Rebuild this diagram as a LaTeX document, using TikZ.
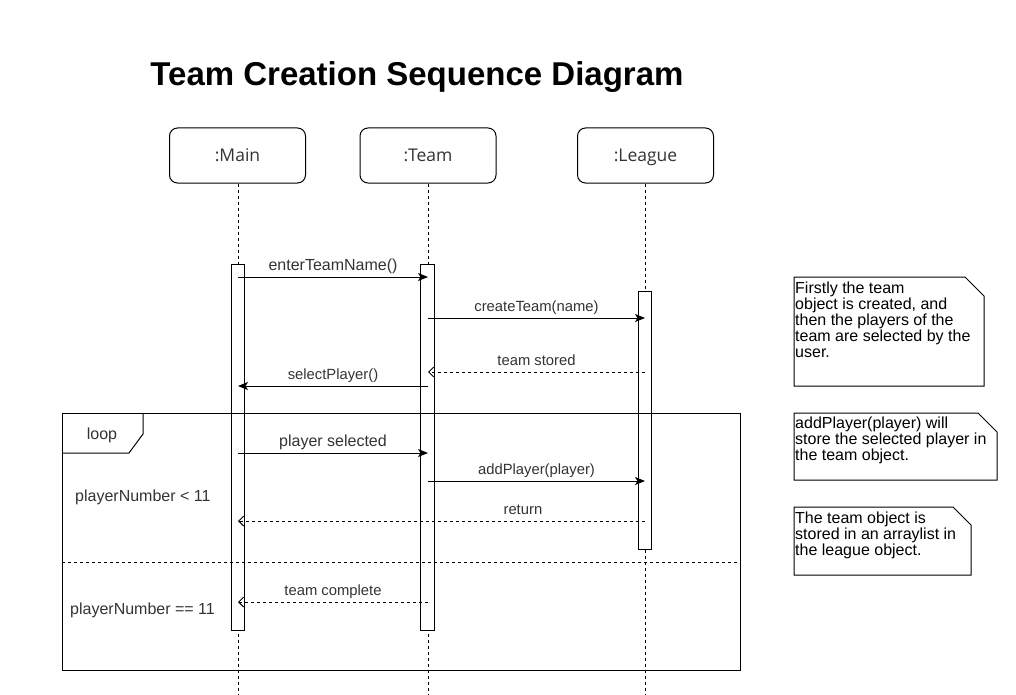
\documentclass[tikz,border=0pt]{standalone}
\usepackage{fontspec}
\setmainfont{Liberation Sans}
\newfontfamily\headfont{Open Sans}
\usetikzlibrary{arrows.meta}
\definecolor{txt}{HTML}{333333}
\begin{document}
\begin{tikzpicture}[x=1pt,y=-1pt,
  head/.style={draw=black, line width=1pt, rounded corners=8pt, minimum width=136pt, minimum height=55pt, inner sep=0pt, text height=13pt, text depth=0pt, font=\headfont\fontsize{17.5}{20}\selectfont, text=txt},
  lifeline/.style={draw=black, line width=1pt, dash pattern=on 3pt off 3pt},
  bar/.style={draw=black, fill=white, line width=1pt, minimum width=13.5pt, inner sep=0pt},
  msg/.style={draw=black, line width=1pt, -{Stealth[length=10pt,width=8pt,inset=2.5pt]}},
  ret/.style={draw=black, line width=1pt, dash pattern=on 3pt off 3pt, -{Straight Barb[length=5pt,width=10pt]}},
  lblA/.style={font=\fontsize{16}{18}\selectfont, text=txt, anchor=base, inner sep=0pt, yshift=7pt},
  lblB/.style={font=\fontsize{14.8}{17}\selectfont, text=txt, anchor=base, inner sep=0pt, yshift=7pt},
  cond/.style={font=\fontsize{16}{18}\selectfont, text=txt, anchor=base west, inner sep=0pt},
  notebox/.style={draw=black, line width=1pt, fill=white},
  notetxt/.style={font=\fontsize{16}{16}\selectfont, text=black, anchor=base west, inner sep=0pt},
  framebox/.style={draw=black, line width=1pt, inner sep=0pt}
]
\useasboundingbox (0,0) rectangle (1016,695);

% title
\node[font=\bfseries\fontsize{33}{38}\selectfont, anchor=base, inner sep=0pt] (title) at (417,86) {Team Creation Sequence Diagram};

% lifeline heads
\node[head] (main) at (237.5,155.5) {:Main};
\node[head] (team) at (428,155.5) {:Team};
\node[head] (league) at (645.5,155.5) {:League};

% lifeline ends
\coordinate (mainEnd) at (238,695);
\coordinate (teamEnd) at (428,695);
\coordinate (leagueEnd) at (645,695);
\draw[lifeline] (main.south -| mainEnd) -- (mainEnd);
\draw[lifeline] (team.south -| teamEnd) -- (teamEnd);
\draw[lifeline] (league.south -| leagueEnd) -- (leagueEnd);

% activation bars
\node[bar, minimum height=366pt] (mainbar) at (238,447) {};
\node[bar, minimum height=366pt] (teambar) at (427.5,447) {};
\node[bar, minimum height=258pt] (leaguebar) at (645,420) {};

% loop frame
\node[framebox, minimum width=678pt, minimum height=257pt, anchor=north west] (loopframe) at (62,413) {};
\coordinate (tabA) at (143,413);
\coordinate (tabB) at (143,434);
\coordinate (tabC) at (129,453);
\coordinate (tabD) at (62,453);
\draw[line width=1pt] (tabA) -- (tabB) -- (tabC) -- (tabD);
\node[font=\fontsize{16}{18}\selectfont, text=txt, anchor=base, inner sep=0pt] (looplbl) at (102,439) {loop};
\coordinate (sepL) at (62,562);
\coordinate (sepR) at (740,562);
\draw[lifeline] (sepL) -- (sepR);
\node[cond] (cond1) at (75,501) {playerNumber < 11};
\node[cond] (cond2) at (70,614) {playerNumber == 11};

% messages
\coordinate (m1a) at (238,277); \coordinate (m1b) at (428,277);
\draw[msg] (m1a) -- (m1b) node[lblA, midway] (l1) {enterTeamName()};
\coordinate (m2a) at (428,318); \coordinate (m2b) at (645,318);
\draw[msg] (m2a) -- (m2b) node[lblB, midway] (l2) {createTeam(name)};
\coordinate (m3a) at (645,372); \coordinate (m3b) at (428,372);
\draw[ret] (m3a) -- (m3b) node[lblB, midway] (l3) {team stored};
\coordinate (m4a) at (428,386); \coordinate (m4b) at (238,386);
\draw[msg] (m4a) -- (m4b) node[lblB, midway] (l4) {selectPlayer()};
\coordinate (m5a) at (238,453); \coordinate (m5b) at (428,453);
\draw[msg] (m5a) -- (m5b) node[lblA, midway] (l5) {player selected};
\coordinate (m6a) at (428,481); \coordinate (m6b) at (645,481);
\draw[msg] (m6a) -- (m6b) node[lblB, midway] (l6) {addPlayer(player)};
\coordinate (m7a) at (645,521); \coordinate (m7b) at (238,521);
\draw[ret] (m7a) -- (m7b) node[lblB, pos=0.3] (l7) {return};
\coordinate (m8a) at (428,602); \coordinate (m8b) at (238,602);
\draw[ret] (m8a) -- (m8b) node[lblB, midway] (l8) {team complete};

% notes
\draw[notebox] (794,277) -- (965,277) -- (984,296) -- (984,386) -- (794,386) -- cycle;
\node[notetxt] (n1a) at (795,293) {Firstly the team};
\node[notetxt] (n1b) at (795,309) {object is created, and};
\node[notetxt] (n1c) at (795,325) {then the players of the};
\node[notetxt] (n1d) at (795,341) {team are selected by the};
\node[notetxt] (n1e) at (795,357) {user.};

\draw[notebox] (794,413) -- (978,413) -- (997,432) -- (997,480) -- (794,480) -- cycle;
\node[notetxt] (n2a) at (795,428) {addPlayer(player) will};
\node[notetxt] (n2b) at (795,444) {store the selected player in};
\node[notetxt] (n2c) at (795,460) {the team object.};

\draw[notebox] (794,507) -- (953,507) -- (971,525) -- (971,575) -- (794,575) -- cycle;
\node[notetxt] (n3a) at (795,523) {The team object is};
\node[notetxt] (n3b) at (795,539) {stored in an arraylist in};
\node[notetxt] (n3c) at (795,555) {the league object.};
\end{tikzpicture}
\end{document}
